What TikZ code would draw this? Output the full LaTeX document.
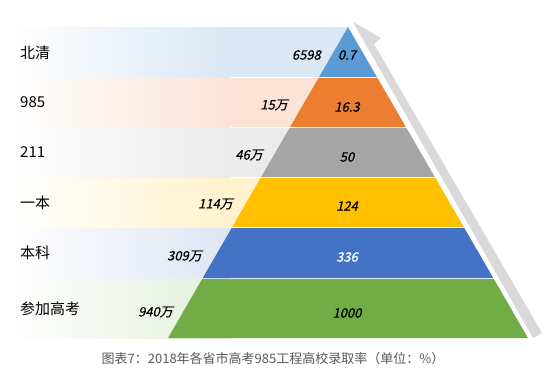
\documentclass[tikz,border=0pt]{standalone}
\usepackage{fontspec}
\setmainfont{Noto Sans CJK SC}
\newfontfamily\cjk{Noto Sans CJK SC}
\newfontfamily\cjkit[FakeSlant=0.22,FakeBold=0.6]{Noto Sans CJK SC}
\usetikzlibrary{calc}
\definecolor{cA}{HTML}{5B9BD5}
\definecolor{cB}{HTML}{ED7D31}
\definecolor{cC}{HTML}{A5A5A5}
\definecolor{cD}{HTML}{FFC000}
\definecolor{cE}{HTML}{4472C4}
\definecolor{cF}{HTML}{70AD47}
\definecolor{lA}{HTML}{DAE7F5}
\definecolor{lB}{HTML}{FBE3D6}
\definecolor{lC}{HTML}{EBEBEB}
\definecolor{lD}{HTML}{FFF2CC}
\definecolor{lE}{HTML}{DDE5F4}
\definecolor{lF}{HTML}{E3EFDB}
\definecolor{arrowgray}{HTML}{D9D9D9}
\definecolor{captiongray}{HTML}{595959}
\tikzset{
  cat/.style={anchor=west,font=\cjk\fontsize{15}{17}\selectfont,inner sep=0pt},
  cnt/.style={anchor=east,font=\cjkit\fontsize{13}{15}\selectfont,inner sep=0pt},
  val/.style={font=\cjkit\fontsize{13}{15}\selectfont,inner sep=0pt},
}
\newcommand{\bandrect}[3]{% top, bottom, color
  \shade[left color=white,right color=#3] (10,#1) rectangle (230,#2);
  \fill[#3] (229.5,#1) rectangle (348,#2);
  \fill[white] (0,#1) rectangle (10,#2);
}
\newcommand{\pyrlayer}[3]{% top, bottom, color
  \fill[#3] ({348-0.5788*(#1-27)},#1) -- ({348+0.5788*(#1-27)},#1) -- ({348+0.5788*(#2-27)},#2) -- ({348-0.5788*(#2-27)},#2) -- cycle;
}
\begin{document}
\begin{tikzpicture}[x=1pt,y=-1pt]
\useasboundingbox[fill=white] (0,0) rectangle (559,389);
% left gradient bands
\bandrect{27}{77}{lA}
\bandrect{78}{127}{lB}
\bandrect{128}{177}{lC}
\bandrect{178}{227}{lD}
\bandrect{228}{278}{lE}
\bandrect{279}{338}{lF}
% arrow strip
\fill[arrowgray] (353,22) -- (381,38) -- (374,44) -- (542,333) -- (533,338) -- cycle;
% pyramid layers
\pyrlayer{27}{77}{cA}
\pyrlayer{78}{127}{cB}
\pyrlayer{128}{177}{cC}
\pyrlayer{178}{227}{cD}
\pyrlayer{228}{278}{cE}
\pyrlayer{279}{338}{cF}
% category labels
\node[cat] (l1) at (20,53) {北清};
\node[cat] (l2) at (20,102) {985};
\node[cat] (l3) at (20,152) {211};
\node[cat] (l4) at (20,203) {一本};
\node[cat] (l5) at (20,253) {本科};
\node[cat] (l6) at (20,309) {参加高考};
% counts
\node[cnt] (n1) at (321,55) {6598};
\node[cnt] (n2) at (288,105) {15万};
\node[cnt] (n3) at (263,155) {46万};
\node[cnt] (n4) at (233,204) {114万};
\node[cnt] (n5) at (202,256) {309万};
\node[cnt] (n6) at (173,312) {940万};
% values
\node[val] (v1) at (347,55) {0.7};
\node[val] (v2) at (347,107) {16.3};
\node[val] (v3) at (347,157) {50};
\node[val] (v4) at (347,206) {124};
\node[val,text=white] (v5) at (347,257) {336};
\node[val] (v6) at (347,313) {1000};
% caption
\node[font=\cjk\fontsize{13}{15}\selectfont,text=captiongray,inner sep=0pt] (cap) at (273,359) {图表7：2018年各省市高考985工程高校录取率（单位：\%）};
\end{tikzpicture}
\end{document}
